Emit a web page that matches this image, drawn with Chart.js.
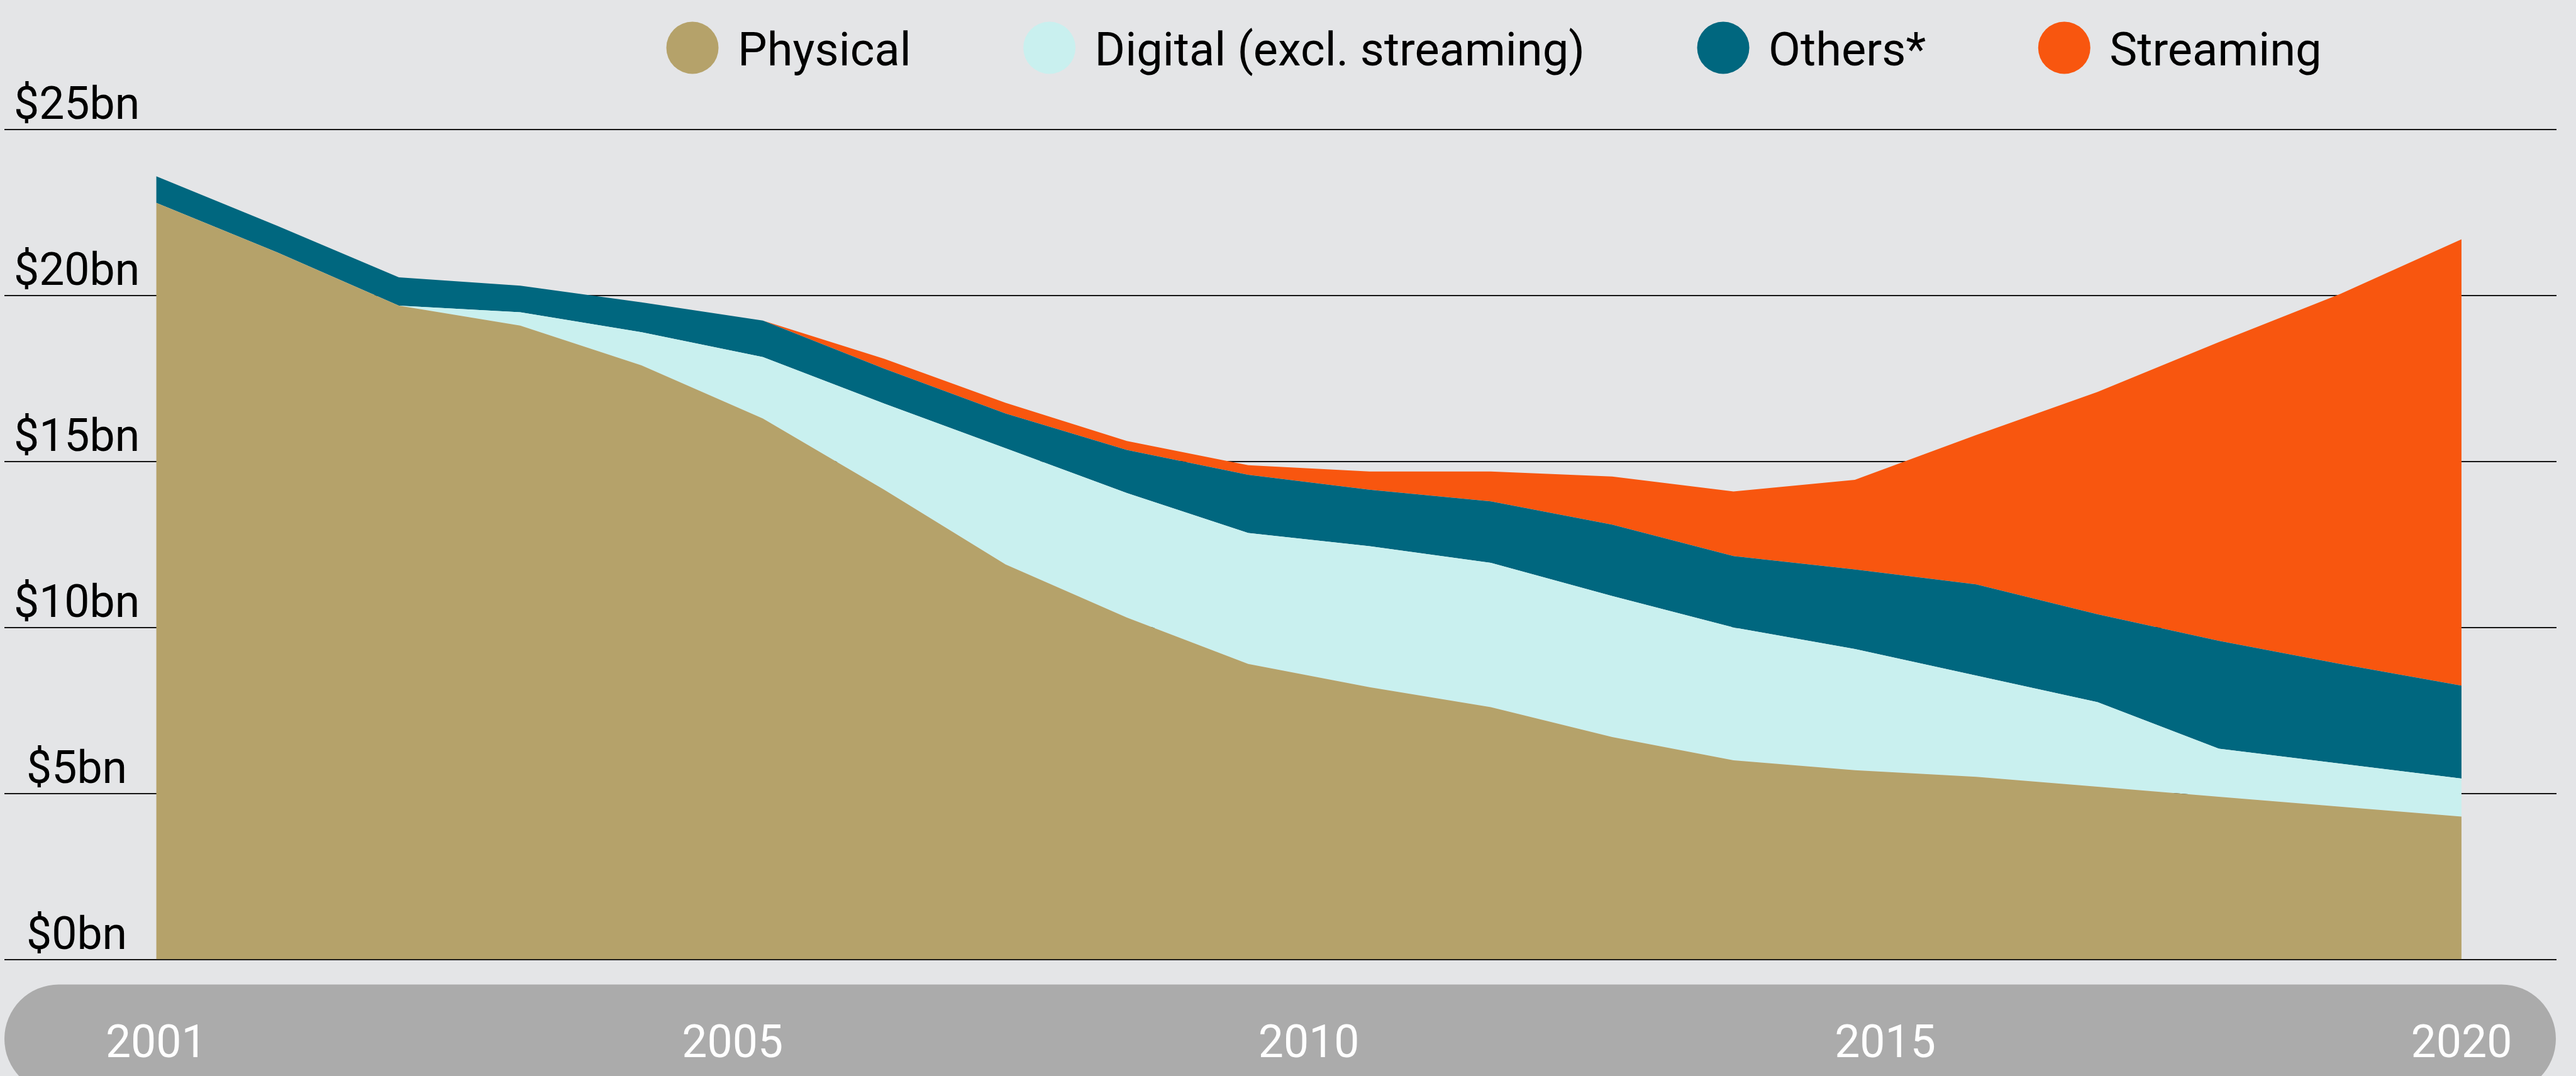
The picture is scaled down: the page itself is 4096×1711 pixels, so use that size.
<!DOCTYPE html>
<html>
<head>
<meta charset="utf-8">
<title>Recorded music revenues 2001-2020</title>
<script src="https://cdn.jsdelivr.net/npm/chart.js@4.4.1/dist/chart.umd.min.js"></script>
<style>
  html, body { margin: 0; padding: 0; background: #e4e5e7; }
  #wrap { width: 4096px; height: 1711px; position: relative; }
</style>
</head>
<body>
<div id="wrap"><canvas id="chart"></canvas></div>
<script>
// values in $bn
const years = [2001, 2002, 2003, 2004, 2005, 2006, 2007, 2008, 2009, 2010,
               2011, 2012, 2013, 2014, 2015, 2016, 2017, 2018, 2019, 2020];
const physical  = [22.8, 21.3, 19.7, 19.1, 17.9, 16.3, 14.15, 11.9, 10.3, 8.9,
                   8.2, 7.6, 6.7, 6.0, 5.7, 5.5, 5.2, 4.9, 4.6, 4.3];
const digital   = [0, 0, 0, 0.4, 1.0, 1.85, 2.6, 3.5, 3.75, 3.95,
                   4.25, 4.35, 4.25, 4.0, 3.65, 3.05, 2.55, 1.45, 1.3, 1.15];
const others    = [0.8, 0.8, 0.85, 0.8, 0.9, 1.1, 1.05, 1.05, 1.3, 1.75,
                   1.7, 1.85, 2.15, 2.15, 2.4, 2.75, 2.65, 3.25, 3.0, 2.8];
const streaming = [0, 0, 0, 0, 0, 0, 0.3, 0.32, 0.27, 0.29,
                   0.55, 0.9, 1.45, 1.95, 2.7, 4.5, 6.7, 9.0, 11.15, 13.45];

const seriesNames = ['Physical', 'Digital (excl. streaming)', 'Others*', 'Streaming'];
const seriesColors = ['#b5a26a', '#c9f0ef', '#00677f', '#f8560f'];
const yTickLabels = ['$0bn', '$5bn', '$10bn', '$15bn', '$20bn', '$25bn'];
const xTickLabels = ['2001', '2005', '2010', '2015', '2020'];

const FONT = 71.5;
const LEGEND_FONT = 74;
Chart.defaults.font.family = "Roboto, 'Liberation Sans', sans-serif";
Chart.defaults.font.size = FONT;
Chart.defaults.color = '#000';

const toPoints = vals => years.map((yr, i) => ({ x: yr, y: vals[i] }));

// grey rounded band that holds the year labels
const pillAxis = {
    id: 'pillAxis',
    beforeDraw(chart) {
        const s = chart.scales.x2;
        const ctx = chart.ctx;
        const h = 173;
        ctx.save();
        ctx.fillStyle = '#ababab';
        ctx.beginPath();
        ctx.roundRect(s.left, s.top + 40, s.right - s.left - 1, h, h / 2);
        ctx.fill();
        ctx.restore();
    }
};

// dot legend on one row at the top
const dotLegend = {
    id: 'dotLegend',
    afterDraw(chart) {
        const ctx = chart.ctx;
        let cx = 1101;
        const cy = 76, r = 41.5, baseline = 104;
        ctx.save();
        ctx.font = `${LEGEND_FONT}px ${Chart.defaults.font.family}`;
        ctx.textBaseline = 'alphabetic';
        ctx.textAlign = 'left';
        chart.data.datasets.forEach(ds => {
            ctx.fillStyle = ds.backgroundColor;
            ctx.beginPath();
            ctx.arc(cx, cy, r, 0, Math.PI * 2);
            ctx.fill();
            const tx = cx + 72;
            ctx.fillStyle = '#000';
            ctx.fillText(ds.label, tx, baseline);
            cx = tx + ctx.measureText(ds.label).width + 220;
        });
        ctx.restore();
    }
};

const sets = [physical, digital, others, streaming].map((vals, i) => ({
    label: seriesNames[i],
    data: toPoints(vals),
    backgroundColor: seriesColors[i],
    borderWidth: 0,
    pointRadius: 0,
    tension: 0,
    fill: i === 0 ? 'origin' : '-1'
}));

new Chart(document.getElementById('chart'), {
    type: 'line',
    data: { datasets: sets },
    plugins: [pillAxis, dotLegend],
    options: {
        responsive: true,
        maintainAspectRatio: false,
        devicePixelRatio: 1,
        animation: false,
        layout: { padding: { left: 7, right: 31, top: 206.3, bottom: 0 } },
        plugins: {
            legend: { display: false },
            tooltip: { enabled: false }
        },
        scales: {
            x: {
                type: 'linear',
                min: 1999.749,
                max: 2020.783,
                display: false
            },
            // year labels sit evenly in the band, not on the data scale
            x2: {
                type: 'linear',
                position: 'bottom',
                min: -0.2633,
                max: 4.1648,
                grid: { display: false },
                border: { display: false },
                afterBuildTicks: s => { s.ticks = xTickLabels.map((_, i) => ({ value: i })); },
                afterFit: s => { s.height = 185.5; },
                ticks: {
                    color: '#fff',
                    padding: 87,
                    maxRotation: 0,
                    autoSkip: false,
                    callback: v => xTickLabels[v]
                }
            },
            y: {
                stacked: true,
                min: 0,
                max: 25,
                border: { display: false },
                grid: { color: '#151515', lineWidth: 2, drawTicks: false },
                afterFit: s => { s.width = 0; },
                ticks: {
                    stepSize: 5,
                    mirror: true,
                    crossAlign: 'center',
                    padding: 15,
                    labelOffset: -34.8,
                    callback: v => yTickLabels[v / 5]
                }
            }
        }
    }
});
</script>
</body>
</html>
